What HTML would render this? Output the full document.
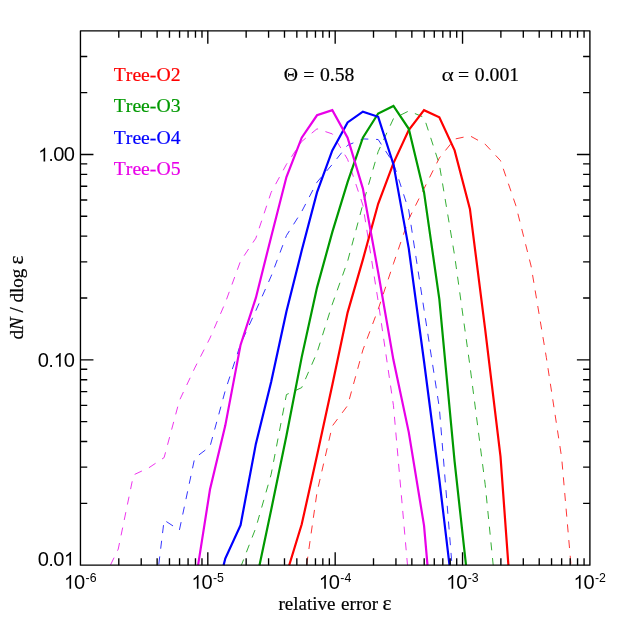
<!DOCTYPE html>
<html><head><meta charset="utf-8"><title>plot</title>
<style>html,body{margin:0;padding:0;background:#fff;}body{width:629px;height:629px;overflow:hidden;font-family:"Liberation Sans",sans-serif;}svg{display:block;will-change:transform;}</style>
</head><body>
<svg width="629" height="629" viewBox="0 0 629 629">
<rect width="629" height="629" fill="#fff"/>
<defs><clipPath id="cp"><rect x="80.45" y="30.85" width="509.45" height="534.80"/></clipPath></defs>
<g clip-path="url(#cp)" fill="none" stroke-linejoin="miter" stroke-miterlimit="10" stroke-linecap="butt">
<path d="M306.60 565.20 L317.01 492.20 L332.30 426.00 L347.59 405.60 L362.88 350.00 L378.17 309.30 L393.46 263.60 L408.75 219.10 L424.04 188.60 L439.33 158.00 L454.62 139.10 L469.91 135.80 L485.20 144.20 L500.49 160.60 L515.78 205.30 L531.07 266.00 L546.36 357.60 L561.65 457.60 L571.00 565.20" stroke="#ff0000" stroke-width="0.8" stroke-dasharray="8 7.75" stroke-dashoffset="15.15"/>
<path d="M241.40 565.20 L255.85 527.80 L271.14 474.40 L286.43 394.60 L301.72 387.60 L317.01 352.60 L332.30 304.20 L347.59 261.30 L362.88 204.30 L378.17 151.60 L393.46 118.60 L408.75 111.00 L424.04 117.30 L439.33 164.40 L454.62 255.60 L469.91 365.60 L485.20 484.60 L493.20 565.20" stroke="#009900" stroke-width="0.8" stroke-dasharray="8 7.75" stroke-dashoffset="1.85"/>
<path d="M158.70 565.20 L164.11 520.10 L179.40 530.10 L194.69 458.10 L209.98 446.60 L225.27 390.60 L240.56 344.10 L255.85 310.60 L271.14 276.20 L286.43 235.60 L301.72 211.50 L317.01 182.20 L332.30 164.40 L347.59 145.30 L362.88 138.90 L378.17 139.50 L393.46 163.10 L408.75 210.20 L424.04 309.60 L439.33 407.60 L452.00 565.20" stroke="#0000ff" stroke-width="0.8" stroke-dasharray="8 7.75" stroke-dashoffset="14.90"/>
<path d="M110.40 565.20 L118.24 549.10 L133.53 474.90 L148.82 467.80 L164.11 457.60 L179.40 400.60 L194.69 368.10 L209.98 338.10 L225.27 302.80 L240.56 261.00 L255.85 238.20 L271.14 192.40 L286.43 164.40 L301.72 141.50 L317.01 128.80 L332.30 133.90 L347.59 159.30 L362.88 205.10 L378.17 301.20 L393.46 405.60 L407.50 565.20" stroke="#e800e8" stroke-width="0.8" stroke-dasharray="8 7.75" stroke-dashoffset="15.35"/>
<path d="M289.20 565.20 L301.72 524.30 L317.01 455.60 L332.30 385.00 L347.59 312.60 L362.88 259.60 L378.17 203.80 L393.46 163.10 L408.75 130.00 L424.04 110.20 L439.33 117.30 L454.62 150.40 L469.91 208.90 L485.20 329.60 L500.49 456.40 L508.40 565.20" stroke="#ff0000" stroke-width="2.2"/>
<path d="M259.50 565.20 L271.14 510.10 L286.43 435.70 L301.72 357.10 L317.01 287.60 L332.30 232.10 L347.59 182.20 L362.88 137.70 L378.17 113.50 L393.46 105.90 L408.75 128.80 L424.04 192.40 L439.33 299.10 L454.62 461.60 L466.00 565.20" stroke="#009900" stroke-width="2.2"/>
<path d="M223.60 565.20 L225.27 558.60 L240.56 525.10 L255.85 443.90 L271.14 382.10 L286.43 311.60 L301.72 250.60 L317.01 192.40 L332.30 150.40 L347.59 122.40 L362.88 111.70 L378.17 116.80 L393.46 164.40 L408.75 248.40 L424.04 361.50 L439.33 479.50 L449.50 565.20" stroke="#0000ff" stroke-width="2.2"/>
<path d="M198.10 565.20 L209.98 489.50 L225.27 425.60 L240.56 344.90 L255.85 297.90 L271.14 236.90 L286.43 177.10 L301.72 137.70 L317.01 115.30 L332.30 110.20 L347.59 137.70 L362.88 188.60 L378.17 272.20 L393.46 360.10 L408.75 432.10 L424.04 525.60 L427.50 565.20" stroke="#e800e8" stroke-width="2.2"/>
</g>
<g stroke="#000" stroke-width="1.35" fill="none" stroke-linejoin="round">
<rect x="80.45" y="30.85" width="509.45" height="534.30"/>
</g>
<g stroke="#000" stroke-width="1.35" fill="none" stroke-linecap="butt">
<path d="M118.79 565.15 v-6.80 M118.79 30.85 v6.80"/>
<path d="M141.22 565.15 v-6.80 M141.22 30.85 v6.80"/>
<path d="M157.13 565.15 v-6.80 M157.13 30.85 v6.80"/>
<path d="M169.47 565.15 v-6.80 M169.47 30.85 v6.80"/>
<path d="M179.56 565.15 v-6.80 M179.56 30.85 v6.80"/>
<path d="M188.08 565.15 v-6.80 M188.08 30.85 v6.80"/>
<path d="M195.47 565.15 v-6.80 M195.47 30.85 v6.80"/>
<path d="M201.98 565.15 v-6.80 M201.98 30.85 v6.80"/>
<path d="M207.81 565.15 v-13.00 M207.81 30.85 v13.00"/>
<path d="M246.15 565.15 v-6.80 M246.15 30.85 v6.80"/>
<path d="M268.58 565.15 v-6.80 M268.58 30.85 v6.80"/>
<path d="M284.49 565.15 v-6.80 M284.49 30.85 v6.80"/>
<path d="M296.84 565.15 v-6.80 M296.84 30.85 v6.80"/>
<path d="M306.92 565.15 v-6.80 M306.92 30.85 v6.80"/>
<path d="M315.45 565.15 v-6.80 M315.45 30.85 v6.80"/>
<path d="M322.83 565.15 v-6.80 M322.83 30.85 v6.80"/>
<path d="M329.35 565.15 v-6.80 M329.35 30.85 v6.80"/>
<path d="M335.18 565.15 v-13.00 M335.18 30.85 v13.00"/>
<path d="M373.51 565.15 v-6.80 M373.51 30.85 v6.80"/>
<path d="M395.94 565.15 v-6.80 M395.94 30.85 v6.80"/>
<path d="M411.85 565.15 v-6.80 M411.85 30.85 v6.80"/>
<path d="M424.20 565.15 v-6.80 M424.20 30.85 v6.80"/>
<path d="M434.28 565.15 v-6.80 M434.28 30.85 v6.80"/>
<path d="M442.81 565.15 v-6.80 M442.81 30.85 v6.80"/>
<path d="M450.19 565.15 v-6.80 M450.19 30.85 v6.80"/>
<path d="M456.71 565.15 v-6.80 M456.71 30.85 v6.80"/>
<path d="M462.54 565.15 v-13.00 M462.54 30.85 v13.00"/>
<path d="M500.88 565.15 v-6.80 M500.88 30.85 v6.80"/>
<path d="M523.30 565.15 v-6.80 M523.30 30.85 v6.80"/>
<path d="M539.22 565.15 v-6.80 M539.22 30.85 v6.80"/>
<path d="M551.56 565.15 v-6.80 M551.56 30.85 v6.80"/>
<path d="M561.64 565.15 v-6.80 M561.64 30.85 v6.80"/>
<path d="M570.17 565.15 v-6.80 M570.17 30.85 v6.80"/>
<path d="M577.56 565.15 v-6.80 M577.56 30.85 v6.80"/>
<path d="M584.07 565.15 v-6.80 M584.07 30.85 v6.80"/>
<path d="M80.45 503.34 h6.80 M589.90 503.34 h-6.80"/>
<path d="M80.45 467.18 h6.80 M589.90 467.18 h-6.80"/>
<path d="M80.45 441.52 h6.80 M589.90 441.52 h-6.80"/>
<path d="M80.45 421.63 h6.80 M589.90 421.63 h-6.80"/>
<path d="M80.45 405.37 h6.80 M589.90 405.37 h-6.80"/>
<path d="M80.45 391.62 h6.80 M589.90 391.62 h-6.80"/>
<path d="M80.45 379.71 h6.80 M589.90 379.71 h-6.80"/>
<path d="M80.45 369.21 h6.80 M589.90 369.21 h-6.80"/>
<path d="M80.45 359.81 h13.00 M589.90 359.81 h-13.00"/>
<path d="M80.45 298.00 h6.80 M589.90 298.00 h-6.80"/>
<path d="M80.45 261.84 h6.80 M589.90 261.84 h-6.80"/>
<path d="M80.45 236.19 h6.80 M589.90 236.19 h-6.80"/>
<path d="M80.45 216.29 h6.80 M589.90 216.29 h-6.80"/>
<path d="M80.45 200.03 h6.80 M589.90 200.03 h-6.80"/>
<path d="M80.45 186.28 h6.80 M589.90 186.28 h-6.80"/>
<path d="M80.45 174.37 h6.80 M589.90 174.37 h-6.80"/>
<path d="M80.45 163.87 h6.80 M589.90 163.87 h-6.80"/>
<path d="M80.45 154.48 h13.00 M589.90 154.48 h-13.00"/>
<path d="M80.45 92.66 h6.80 M589.90 92.66 h-6.80"/>
<path d="M80.45 56.50 h6.80 M589.90 56.50 h-6.80"/>
</g>
<g style="font-family:'Liberation Sans',sans-serif;font-size:18.60px" fill="#000">
<text transform="translate(43.43 565.60) scale(1.08 1.04)" text-anchor="middle">0</text>
<text x="48.60" y="565.60">.</text>
<text transform="translate(58.94 565.60) scale(1.08 1.04)" text-anchor="middle">0</text>
<path transform="translate(64.11 565.60) scale(0.00908 -0.00931)" d="M763 0H583V1147Q518 1085 412.5 1023Q307 961 223 930V1104Q374 1175 487 1276Q600 1377 647 1472H763Z"/>
<text transform="translate(43.43 366.71) scale(1.08 1.04)" text-anchor="middle">0</text>
<text x="48.60" y="366.71">.</text>
<path transform="translate(53.77 366.71) scale(0.00908 -0.00931)" d="M763 0H583V1147Q518 1085 412.5 1023Q307 961 223 930V1104Q374 1175 487 1276Q600 1377 647 1472H763Z"/>
<text transform="translate(69.28 366.71) scale(1.08 1.04)" text-anchor="middle">0</text>
<path transform="translate(38.25 161.38) scale(0.00908 -0.00931)" d="M763 0H583V1147Q518 1085 412.5 1023Q307 961 223 930V1104Q374 1175 487 1276Q600 1377 647 1472H763Z"/>
<text x="48.60" y="161.38">.</text>
<text transform="translate(58.94 161.38) scale(1.08 1.04)" text-anchor="middle">0</text>
<text transform="translate(69.28 161.38) scale(1.08 1.04)" text-anchor="middle">0</text>
<path transform="translate(64.20 588.80) scale(0.00908 -0.00931)" d="M763 0H583V1147Q518 1085 412.5 1023Q307 961 223 930V1104Q374 1175 487 1276Q600 1377 647 1472H763Z"/>
<text transform="translate(79.71 588.80) scale(1.08 1.04)" text-anchor="middle">0</text>
<text x="85.58" y="581.60" style="font-size:12.30px">-6</text>
<path transform="translate(191.56 588.80) scale(0.00908 -0.00931)" d="M763 0H583V1147Q518 1085 412.5 1023Q307 961 223 930V1104Q374 1175 487 1276Q600 1377 647 1472H763Z"/>
<text transform="translate(207.07 588.80) scale(1.08 1.04)" text-anchor="middle">0</text>
<text x="212.95" y="581.60" style="font-size:12.30px">-5</text>
<path transform="translate(318.93 588.80) scale(0.00908 -0.00931)" d="M763 0H583V1147Q518 1085 412.5 1023Q307 961 223 930V1104Q374 1175 487 1276Q600 1377 647 1472H763Z"/>
<text transform="translate(334.44 588.80) scale(1.08 1.04)" text-anchor="middle">0</text>
<text x="340.31" y="581.60" style="font-size:12.30px">-4</text>
<path transform="translate(446.29 588.80) scale(0.00908 -0.00931)" d="M763 0H583V1147Q518 1085 412.5 1023Q307 961 223 930V1104Q374 1175 487 1276Q600 1377 647 1472H763Z"/>
<text transform="translate(461.80 588.80) scale(1.08 1.04)" text-anchor="middle">0</text>
<text x="467.67" y="581.60" style="font-size:12.30px">-3</text>
<path transform="translate(573.65 588.80) scale(0.00908 -0.00931)" d="M763 0H583V1147Q518 1085 412.5 1023Q307 961 223 930V1104Q374 1175 487 1276Q600 1377 647 1472H763Z"/>
<text transform="translate(589.16 588.80) scale(1.08 1.04)" text-anchor="middle">0</text>
<text x="595.03" y="581.60" style="font-size:12.30px">-2</text>
</g>
<g style="font-family:'Liberation Serif',serif;font-size:19.70px;font-kerning:none" stroke-width="0.2">
<text x="113.8" y="80.70" fill="#ff0000" stroke="#ff0000">Tree-O2</text>
<text x="113.8" y="112.10" fill="#009900" stroke="#009900">Tree-O3</text>
<text x="113.8" y="143.50" fill="#0000ff" stroke="#0000ff">Tree-O4</text>
<text x="113.8" y="174.90" fill="#e800e8" stroke="#e800e8">Tree-O5</text>
<text x="283.8" y="81.3" fill="#000" stroke="#000">&#920;</text>
<text x="303.2" y="81.3" fill="#000" stroke="#000">=</text>
<text x="320.0" y="81.3" fill="#000" stroke="#000">0.58</text>
<text transform="translate(441.5 81.3) scale(1.2 1)" fill="#000">&#945;</text>
<text x="458.0" y="81.3" fill="#000" stroke="#000">=</text>
<text x="474.8" y="81.3" fill="#000" stroke="#000">0.001</text>
</g>
<g style="font-family:'Liberation Serif',serif;font-size:19.05px;font-kerning:none" stroke="#000" stroke-width="0.2">
<text x="278.5" y="609.5" fill="#000">relative</text>
<text x="341.1" y="609.5" fill="#000">error</text>
<text transform="translate(382.6 609.7) scale(1.12 1.13)" fill="#000">&#949;</text>
<text transform="translate(23 339.6) rotate(-90)" fill="#000">d<tspan font-style="italic">N</tspan> / dlog</text>
<text transform="translate(23.2 264.5) rotate(-90) scale(1.12 1.13)" fill="#000">&#949;</text>
</g>
</svg>
</body></html>
